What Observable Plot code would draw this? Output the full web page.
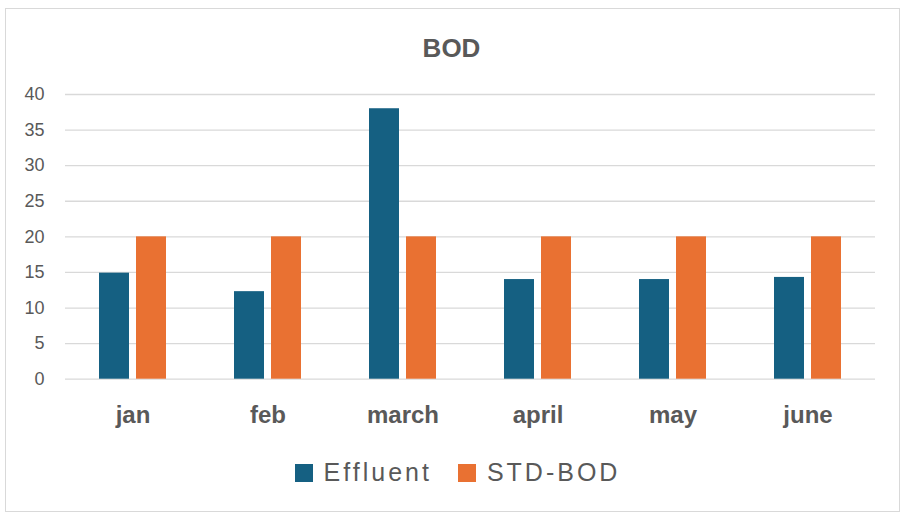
<!DOCTYPE html>
<html>
<head>
<meta charset="utf-8">
<script src="https://cdn.jsdelivr.net/npm/d3@7"></script>
<script src="https://cdn.jsdelivr.net/npm/@observablehq/plot@0.6"></script>
<style>
  html, body { margin: 0; padding: 0; background: #fff; }
  #wrap { position: relative; width: 903px; height: 514px; overflow: hidden; font-family: "Liberation Sans", Arial, sans-serif; }
  #frame { position: absolute; left: 5px; top: 8px; width: 895px; height: 504px; border: 1px solid #d9d9d9; box-sizing: border-box; }
  #title { position: absolute; left: 0; width: 903px; top: 35px; text-align: center; font-size: 26px; font-weight: bold; color: #595959; line-height: 26px; }
  #chart { position: absolute; left: 0; top: 0; }
  #legend { position: absolute; left: 6px; width: 903px; top: 460px; display: flex; justify-content: center; align-items: center; font-size: 25px; color: #595959; letter-spacing: 3px; line-height: 25px; }
  .item { display: flex; align-items: center; margin: 0 13px; }
  .sw { width: 18px; height: 18px; margin-right: 11px; }
</style>
</head>
<body>
<div id="wrap">
  <div id="frame"></div>
  <div id="chart"></div>
  <div id="title">BOD</div>
  <div id="legend"></div>
</div>
<script>
const months = ["jan", "feb", "march", "april", "may", "june"];
const seriesNames = ["Effluent", "STD-BOD"];
const effluent = [14.9, 12.3, 38.0, 14.0, 14.0, 14.3];
const stdBod = [20, 20, 20, 20, 20, 20];
const yTicks = [0, 5, 10, 15, 20, 25, 30, 35, 40];
const colors = ["#156082", "#E97132"];

const data = [];
months.forEach((m, i) => {
  data.push({month: m, series: seriesNames[0], value: effluent[i]});
  data.push({month: m, series: seriesNames[1], value: stdBod[i]});
});

const chart = Plot.plot({
  width: 903,
  height: 440,
  marginLeft: 64,
  marginRight: 28,
  marginTop: 94,
  marginBottom: 61.3,
  style: { fontFamily: "'Liberation Sans', Arial, sans-serif", color: "#595959", background: "transparent", overflow: "visible" },
  fx: { domain: months, padding: 0, label: null, axis: null },
  x: { domain: seriesNames, paddingInner: 0.19, paddingOuter: 0.9, axis: null },
  y: { domain: [0, 40], ticks: yTicks, axis: null },
  color: { domain: seriesNames, range: colors },
  marks: [
    Plot.ruleY(yTicks, { stroke: "#d9d9d9", strokeWidth: 1.3 }),
    Plot.barY(data, { fx: "month", x: "series", y: "value", fill: "series" }),
    Plot.axisY(yTicks, { anchor: "left", tickSize: 0, tickPadding: 21, fontSize: 18, fill: "#595959", label: null }),
    Plot.axisFx({ anchor: "bottom", tickSize: 0, tickPadding: 27, fontSize: 24, fontWeight: "bold", fill: "#595959", label: null })
  ]
});
document.getElementById("chart").appendChild(chart);

const legend = document.getElementById("legend");
seriesNames.forEach((s, i) => {
  const item = document.createElement("div");
  item.className = "item";
  const sw = document.createElement("div");
  sw.className = "sw";
  sw.style.background = colors[i];
  const t = document.createElement("span");
  t.textContent = s;
  item.appendChild(sw);
  item.appendChild(t);
  legend.appendChild(item);
});
</script>
</body>
</html>
